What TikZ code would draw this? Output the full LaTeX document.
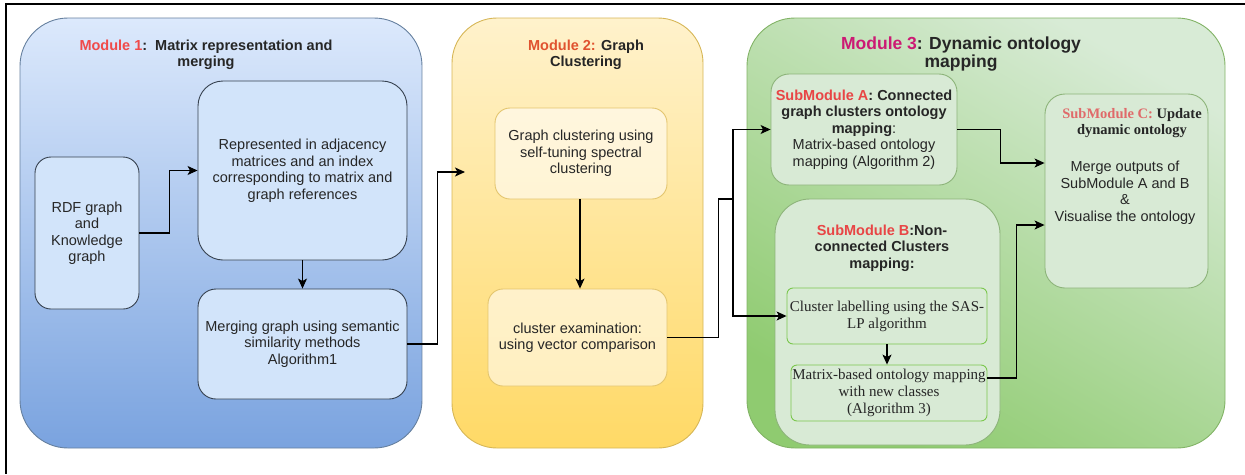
\documentclass[tikz,border=0pt]{standalone}
\usepackage{fontspec}
\setmainfont{Liberation Sans}
\newfontfamily\timesfont{Liberation Serif}
\usetikzlibrary{arrows.meta,calc}

% palette
\definecolor{mOneTop}{HTML}{DCE9FC}
\definecolor{mOneBot}{HTML}{7AA3DF}
\definecolor{mOneLine}{HTML}{66809F}
\definecolor{boxBlue}{HTML}{D2E4FA}
\definecolor{boxBlueLine}{HTML}{36414F}
\definecolor{mTwoTop}{HTML}{FFF2CC}
\definecolor{mTwoBot}{HTML}{FFD966}
\definecolor{mTwoLine}{HTML}{D6B656}
\definecolor{boxYelLine}{HTML}{E3C56E}
\definecolor{mThreeTop}{HTML}{D8EBD6}
\definecolor{mThreeBot}{HTML}{8FCB70}
\definecolor{mThreeLine}{HTML}{82B366}
\definecolor{boxGrn}{HTML}{D8EAD5}
\definecolor{boxGrnLine}{HTML}{8DB47A}
\definecolor{boxLime}{HTML}{7BC74D}
\definecolor{redOne}{HTML}{F04A4A}
\definecolor{redTwo}{HTML}{E0532F}
\definecolor{magThree}{HTML}{CC1A74}
\definecolor{subRed}{HTML}{E84545}
\definecolor{subRedC}{HTML}{E06A6A}

\begin{document}
\begin{tikzpicture}[x=1pt,y=-1pt,
  every node/.style={font=\fontsize{14.5}{16.5}\selectfont, align=center, inner sep=0pt, text=black!85},
  serif/.style={font=\timesfont\fontsize{15}{17}\selectfont},
  modbox/.style={rectangle, draw, line width=0.9pt, rounded corners=48pt},
  modone/.style={modbox, draw=mOneLine, top color=mOneTop, bottom color=mOneBot},
  modtwo/.style={modbox, draw=mTwoLine, top color=mTwoTop, bottom color=mTwoBot},
  modthree/.style={modbox, draw=mThreeLine, top color=mThreeTop, bottom color=mThreeBot, shading angle=-30},
  bluebox/.style={rectangle, draw=boxBlueLine, fill=boxBlue, line width=0.9pt},
  yelbox/.style={rectangle, draw=boxYelLine, fill=white, fill opacity=0.55, text opacity=1, line width=0.9pt, rounded corners=15pt},
  grnbox/.style={rectangle, draw=boxGrnLine, fill=boxGrn, line width=0.9pt},
  limebox/.style={rectangle, draw=boxLime, fill=boxGrn, line width=0.9pt, rounded corners=6pt, serif},
  title/.style={font=\bfseries\fontsize{14.5}{16.5}\selectfont},
  wire/.style={draw=black, line width=1.1pt},
  arr/.style={wire, -{Stealth[length=10pt,width=9pt,inset=2.5pt]}},
  frame/.style={draw=black, line width=1.3pt}
]
\useasboundingbox (0,0) rectangle (1245,474);

% outer frame
\draw[frame] (5,4) -- (1245,4);
\draw[frame] (6,4) -- (6,474);

% ---------------- Module 1 ----------------
\node[modone, minimum width=402pt, minimum height=430pt] (mod1) at (221,233) {};
\node[title] (t1) at (206,55) {\textcolor{redOne}{Module 1}:\ \ Matrix representation and\\merging};
\node[bluebox, rounded corners=16pt, minimum width=104pt, minimum height=152pt] (rdf) at (87,233)
  {RDF graph\\and\\Knowledge\\graph};
\node[bluebox, rounded corners=25pt, minimum width=209pt, minimum height=179pt] (repr) at (302.5,170.5)
  {Represented in adjacency\\matrices and an index\\corresponding to matrix and\\graph references};
\node[bluebox, rounded corners=18pt, minimum width=209pt, minimum height=110pt] (merge) at (302.5,344)
  {Merging graph using semantic\\similarity methods\\Algorithm1};

% ---------------- Module 2 ----------------
\node[modtwo, rounded corners=45pt, minimum width=251pt, minimum height=430pt] (mod2) at (577.5,233) {};
\node[title] (t2) at (586,55) {\textcolor{redTwo}{Module 2:} Graph\\Clustering};
\node[yelbox, minimum width=172pt, minimum height=91pt] (gc) at (581,153.5)
  {Graph clustering using\\self-tuning spectral\\clustering};
\node[yelbox, minimum width=179pt, minimum height=97pt] (ce) at (577.5,337.5)
  {cluster examination:\\using vector comparison};
\coordinate (m2in) at (465,172);

% ---------------- Module 3 ----------------
\node[modthree, minimum width=478pt, minimum height=430pt] (mod3) at (986,233) {};
\node[title, font=\bfseries\fontsize{17.5}{18.5}\selectfont] (t3) at (961,54)
  {\textcolor{magThree}{Module 3}: Dynamic ontology\\mapping};

\node[grnbox, rounded corners=18pt, minimum width=186pt, minimum height=111pt] (subA) at (864,129.5)
  {\textbf{\textcolor{subRed}{SubModule A}: Connected}\\\textbf{graph clusters ontology}\\\textbf{mapping}:\\Matrix-based ontology\\mapping (Algorithm 2)};

\node[grnbox, rounded corners=35pt, minimum width=225pt, minimum height=246pt] (subB) at (887.5,322) {};
\node[title] (tB) at (882,248) {\textcolor{subRed}{SubModule B}:Non-\\connected Clusters\\mapping:};
\node[limebox, minimum width=200pt, minimum height=56pt] (cl) at (887,316)
  {Cluster labelling using the SAS-\\LP algorithm};
\node[limebox, minimum width=196pt, minimum height=56pt] (mx) at (889,393)
  {Matrix-based ontology mapping\\with new classes\\(Algorithm 3)};

\node[grnbox, rounded corners=20pt, minimum width=163pt, minimum height=194pt] (subC) at (1126.5,191) {};
\node[font=\timesfont\bfseries\fontsize{14.5}{16.5}\selectfont] (tC) at (1132,123)
  {\textcolor{subRedC}{SubModule C:} Update\\dynamic ontology};
\node (bC) at (1125,193) {Merge outputs of\\SubModule A and B\\\&\\Visualise the ontology};

% ---------------- connectors ----------------
\draw[arr] (rdf.east) -- ++(30,0) |- (repr.west);
\draw[arr] (repr.south) -- (merge.north);
\draw[arr] (merge.east) -- ++(30,0) |- (m2in);

\draw[arr] (gc.south -| 580,0) -- (580,0 |- ce.north);
\coordinate (split) at (733,199);
\draw[wire] (ce.east) -- ++(51,0) |- (split);
\draw[arr] (split) |- (subA.west);
\draw[arr] (split) |- (cl.west);

\draw[arr] (subA.east) -- ++(43,0) |- ([yshift=28pt]subC.west);
\draw[arr] (cl.south) -- (cl.south |- mx.north);
\draw[arr] ([yshift=15pt]mx.east) -- ++(29,0) |- ([yshift=-34pt]subC.west);
\end{tikzpicture}
\end{document}
